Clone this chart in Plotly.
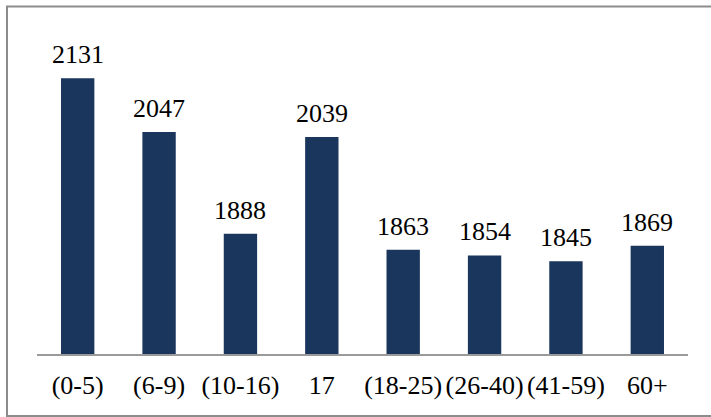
import plotly.graph_objects as go

categories = ["(0-5)", "(6-9)", "(10-16)", "17", "(18-25)", "(26-40)", "(41-59)", "60+"]
values = [2131, 2047, 1888, 2039, 1863, 1854, 1845, 1869]

W, H = 711, 417
ml, mr, mt, mb = 37, 23, 34, 63
y_min, y_max = 1700, 2200
pw = W - ml - mr
ph = H - mt - mb
FONT = "'Liberation Serif', 'Times New Roman', Times, serif"

fig = go.Figure()
fig.add_trace(go.Bar(
    x=categories, y=values,
    marker=dict(color="#1a365d", line=dict(width=0)),
    width=0.41,
    hoverinfo="x+y",
))

for i, v in enumerate(values):
    fig.add_annotation(
        x=i, y=v, text=str(v), showarrow=False,
        yanchor="bottom", yshift=7,
        font=dict(family=FONT, size=26, color="#000000"),
    )

# outer frame
fig.add_shape(
    type="rect", xref="paper", yref="paper",
    x0=(7 - ml) / pw, x1=1.2,
    y0=(H - mb - 416) / ph, y1=(H - mb - 6.5) / ph,
    line=dict(color="#8c8c8c", width=2), fillcolor="rgba(0,0,0,0)", layer="below",
)

fig.update_layout(
    width=W, height=H,
    margin=dict(l=ml, r=mr, t=mt, b=mb),
    paper_bgcolor="white", plot_bgcolor="white",
    showlegend=False,
    font=dict(family=FONT, size=26, color="#000000"),
    xaxis=dict(
        type="category", range=[-0.5, len(categories) - 0.5],
        showline=True, linecolor="#9a9a9a", linewidth=2,
        showgrid=False, ticks="", zeroline=False,
        tickfont=dict(family=FONT, size=26), tickangle=0,
        ticklabelstandoff=7,
    ),
    yaxis=dict(
        range=[y_min, y_max], visible=False, showgrid=False, zeroline=False,
    ),
)

fig.write_html("out.html")
